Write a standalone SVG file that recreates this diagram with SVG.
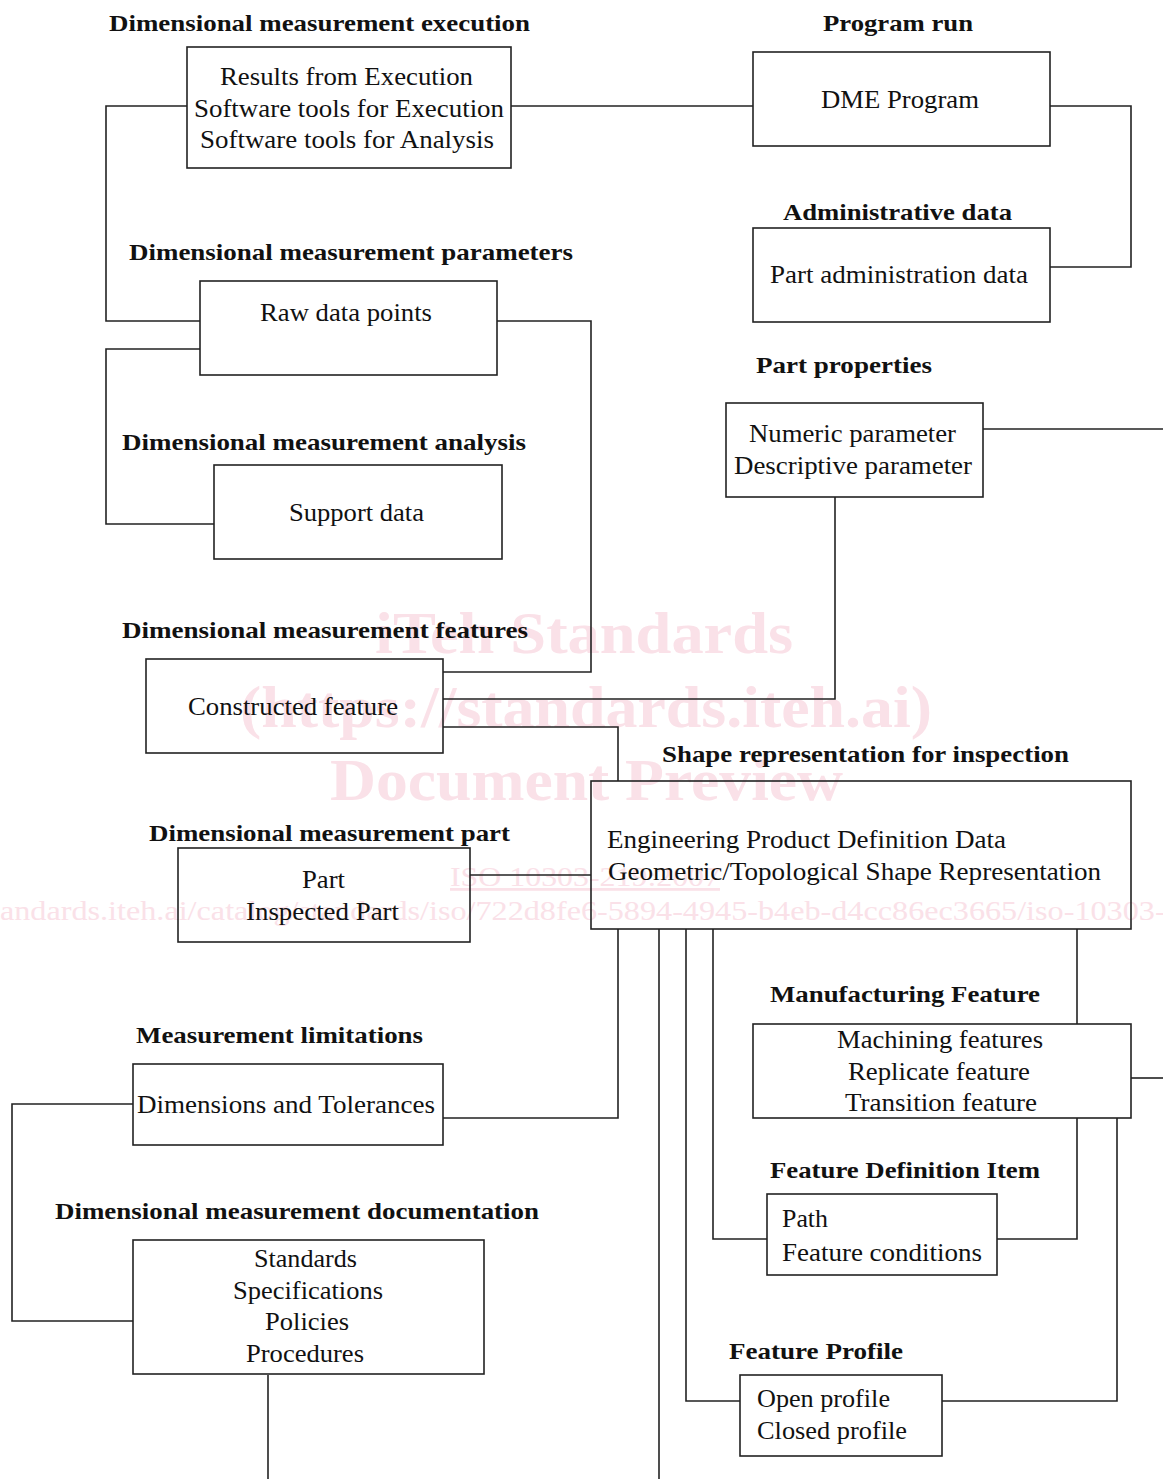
<svg xmlns="http://www.w3.org/2000/svg" width="1163" height="1479" viewBox="0 0 1163 1479">
<style>
.wm{font-family:"Liberation Serif","Times New Roman",serif;fill:#fae1e8}
.wmb{font-weight:bold;font-size:60px}
.wmr{font-size:28px}
.box{fill:none;stroke:#222;stroke-width:1.6}
.ttl{font-family:"Liberation Serif","Times New Roman",serif;font-weight:bold;font-size:24px;fill:#111}
.txt{font-family:"Liberation Serif","Times New Roman",serif;font-size:25px;fill:#111}
#connectors path{fill:none;stroke:#222;stroke-width:1.6}
</style>
<rect width="1163" height="1479" fill="#fff"/>
<g id="watermark" class="wm">
<text class="wmb" x="375" y="653" textLength="418" lengthAdjust="spacingAndGlyphs">iTeh Standards</text>
<text class="wmb" x="240" y="727" textLength="692" lengthAdjust="spacingAndGlyphs">(https://standards.iteh.ai)</text>
<text class="wmb" x="330" y="800" textLength="513" lengthAdjust="spacingAndGlyphs">Document Preview</text>
<text class="wmr" x="450" y="886" textLength="270" lengthAdjust="spacingAndGlyphs" text-decoration="underline">ISO 10303-219:2007</text>
<text class="wmr" x="-111" y="920" textLength="1400" lengthAdjust="spacingAndGlyphs">https://standards.iteh.ai/catalog/standards/iso/722d8fe6-5894-4945-b4eb-d4cc86ec3665/iso-10303-219-2007</text>
</g>
<g id="connectors">
<path d="M511,106 H753"/>
<path d="M187,106 H106 V321 H200"/>
<path d="M200,349 H106 V524 H214"/>
<path d="M497,321 H591 V672 H443"/>
<path d="M443,699 H835 V497"/>
<path d="M443,727 H618 V781"/>
<path d="M1050,106 H1131 V267 H1050"/>
<path d="M983,429 H1163"/>
<path d="M470,875 H591"/>
<path d="M618,929 V1118 H443"/>
<path d="M659,929 V1479"/>
<path d="M686,929 V1401 H740"/>
<path d="M713,929 V1239 H767"/>
<path d="M1077,929 V1024"/>
<path d="M1077,1118 V1239 H997"/>
<path d="M1117,1118 V1401 H942"/>
<path d="M1131,1078 H1163"/>
<path d="M133,1104 H12 V1321 H133"/>
<path d="M268,1375 V1479"/>
</g>
<g id="exec">
<text class="ttl" x="109" y="31" textLength="421" lengthAdjust="spacingAndGlyphs">Dimensional measurement execution</text>
<rect class="box" x="187" y="47" width="324" height="121"/>
<text class="txt" x="220" y="85" textLength="253" lengthAdjust="spacingAndGlyphs">Results from Execution</text>
<text class="txt" x="194" y="117" textLength="310" lengthAdjust="spacingAndGlyphs">Software tools for Execution</text>
<text class="txt" x="200" y="148" textLength="294" lengthAdjust="spacingAndGlyphs">Software tools for Analysis</text>
</g>
<g id="program">
<text class="ttl" x="823" y="31" textLength="150" lengthAdjust="spacingAndGlyphs">Program run</text>
<rect class="box" x="753" y="52" width="297" height="94"/>
<text class="txt" x="821" y="108" textLength="158" lengthAdjust="spacingAndGlyphs">DME Program</text>
</g>
<g id="admin">
<text class="ttl" x="783" y="220" textLength="229" lengthAdjust="spacingAndGlyphs">Administrative data</text>
<rect class="box" x="753" y="228" width="297" height="94"/>
<text class="txt" x="770" y="283" textLength="258" lengthAdjust="spacingAndGlyphs">Part administration data</text>
</g>
<g id="params">
<text class="ttl" x="129" y="260" textLength="444" lengthAdjust="spacingAndGlyphs">Dimensional measurement parameters</text>
<rect class="box" x="200" y="281" width="297" height="94"/>
<text class="txt" x="260" y="321" textLength="172" lengthAdjust="spacingAndGlyphs">Raw data points</text>
</g>
<g id="props">
<text class="ttl" x="756" y="373" textLength="176" lengthAdjust="spacingAndGlyphs">Part properties</text>
<rect class="box" x="726" y="403" width="257" height="94"/>
<text class="txt" x="749" y="442" textLength="207" lengthAdjust="spacingAndGlyphs">Numeric parameter</text>
<text class="txt" x="734" y="474" textLength="238" lengthAdjust="spacingAndGlyphs">Descriptive parameter</text>
</g>
<g id="analysis">
<text class="ttl" x="122" y="450" textLength="404" lengthAdjust="spacingAndGlyphs">Dimensional measurement analysis</text>
<rect class="box" x="214" y="465" width="288" height="94"/>
<text class="txt" x="289" y="521" textLength="135" lengthAdjust="spacingAndGlyphs">Support data</text>
</g>
<g id="features">
<text class="ttl" x="122" y="638" textLength="406" lengthAdjust="spacingAndGlyphs">Dimensional measurement features</text>
<rect class="box" x="146" y="659" width="297" height="94"/>
<text class="txt" x="188" y="715" textLength="210" lengthAdjust="spacingAndGlyphs">Constructed feature</text>
</g>
<g id="shape">
<text class="ttl" x="662" y="762" textLength="407" lengthAdjust="spacingAndGlyphs">Shape representation for inspection</text>
<rect class="box" x="591" y="781" width="540" height="148"/>
<text class="txt" x="607" y="848" textLength="399" lengthAdjust="spacingAndGlyphs">Engineering Product Definition Data</text>
<text class="txt" x="608" y="880" textLength="493" lengthAdjust="spacingAndGlyphs">Geometric/Topological Shape Representation</text>
</g>
<g id="part">
<text class="ttl" x="149" y="841" textLength="361" lengthAdjust="spacingAndGlyphs">Dimensional measurement part</text>
<rect class="box" x="178" y="848" width="292" height="94"/>
<text class="txt" x="302" y="888" textLength="43" lengthAdjust="spacingAndGlyphs">Part</text>
<text class="txt" x="246" y="920" textLength="153" lengthAdjust="spacingAndGlyphs">Inspected Part</text>
</g>
<g id="limits">
<text class="ttl" x="136" y="1043" textLength="287" lengthAdjust="spacingAndGlyphs">Measurement limitations</text>
<rect class="box" x="133" y="1064" width="310" height="81"/>
<text class="txt" x="137" y="1113" textLength="298" lengthAdjust="spacingAndGlyphs">Dimensions and Tolerances</text>
</g>
<g id="docs">
<text class="ttl" x="55" y="1219" textLength="484" lengthAdjust="spacingAndGlyphs">Dimensional measurement documentation</text>
<rect class="box" x="133" y="1240" width="351" height="134"/>
<text class="txt" x="254" y="1267" textLength="103" lengthAdjust="spacingAndGlyphs">Standards</text>
<text class="txt" x="233" y="1299" textLength="150" lengthAdjust="spacingAndGlyphs">Specifications</text>
<text class="txt" x="265" y="1330" textLength="84" lengthAdjust="spacingAndGlyphs">Policies</text>
<text class="txt" x="246" y="1362" textLength="118" lengthAdjust="spacingAndGlyphs">Procedures</text>
</g>
<g id="mfg">
<text class="ttl" x="770" y="1002" textLength="270" lengthAdjust="spacingAndGlyphs">Manufacturing Feature</text>
<rect class="box" x="753" y="1024" width="378" height="94"/>
<text class="txt" x="837" y="1048" textLength="206" lengthAdjust="spacingAndGlyphs">Machining features</text>
<text class="txt" x="848" y="1080" textLength="182" lengthAdjust="spacingAndGlyphs">Replicate feature</text>
<text class="txt" x="845" y="1111" textLength="192" lengthAdjust="spacingAndGlyphs">Transition feature</text>
</g>
<g id="fdi">
<text class="ttl" x="770" y="1178" textLength="270" lengthAdjust="spacingAndGlyphs">Feature Definition Item</text>
<rect class="box" x="767" y="1194" width="230" height="81"/>
<text class="txt" x="782" y="1227" textLength="46" lengthAdjust="spacingAndGlyphs">Path</text>
<text class="txt" x="782" y="1261" textLength="200" lengthAdjust="spacingAndGlyphs">Feature conditions</text>
</g>
<g id="profile">
<text class="ttl" x="729" y="1359" textLength="174" lengthAdjust="spacingAndGlyphs">Feature Profile</text>
<rect class="box" x="740" y="1375" width="202" height="81"/>
<text class="txt" x="757" y="1407" textLength="133" lengthAdjust="spacingAndGlyphs">Open profile</text>
<text class="txt" x="757" y="1439" textLength="150" lengthAdjust="spacingAndGlyphs">Closed profile</text>
</g>
</svg>
